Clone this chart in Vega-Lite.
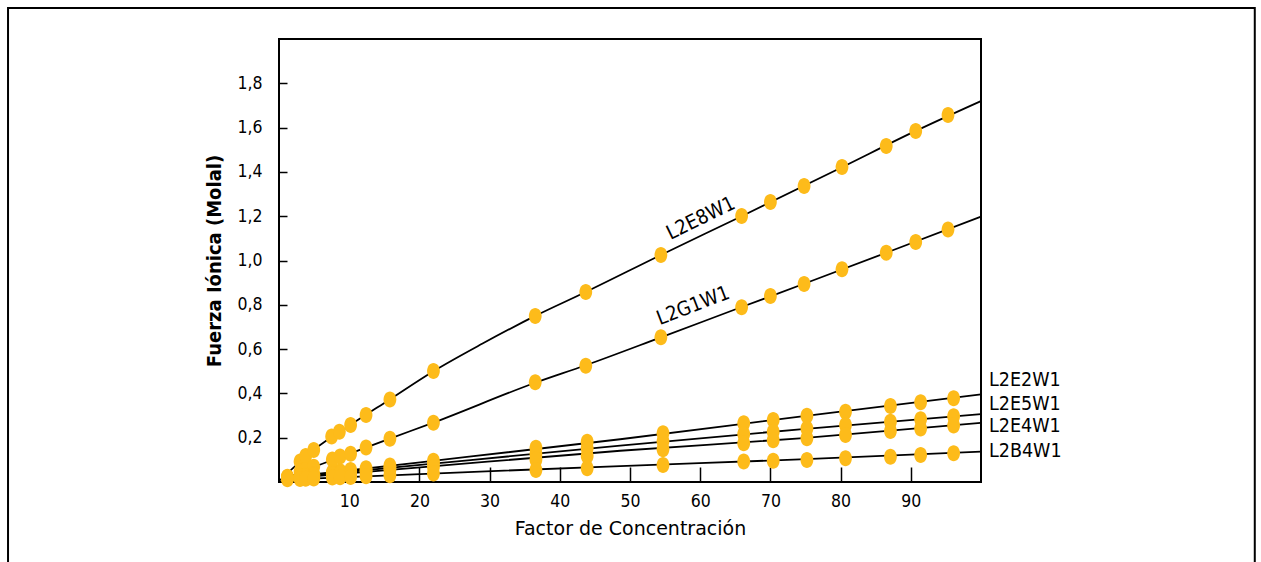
{
  "$schema": "https://vega.github.io/schema/vega-lite/v6.json",
  "width": 702,
  "height": 443,
  "autosize": {"type": "none"},
  "padding": {"left": 279, "top": 39, "right": 280, "bottom": 80},
  "background": "white",
  "config": {
    "font": "DejaVu Sans Condensed",
    "view": {"stroke": "black", "strokeWidth": 2},
    "axis": {
      "grid": false,
      "domain": false,
      "tickColor": "black",
      "tickWidth": 1.5,
      "labelColor": "black",
      "labelFont": "DejaVu Sans Condensed",
      "labelFontSize": 17.5,
      "titleColor": "black",
      "titleFont": "DejaVu Sans",
      "titleFontWeight": "normal"
    }
  },
  "datasets": {
    "muestras": [
      {"serie": "L2E8W1", "x": 1.2, "y": 0.024},
      {"serie": "L2E8W1", "x": 3.0, "y": 0.092},
      {"serie": "L2E8W1", "x": 3.8, "y": 0.117},
      {"serie": "L2E8W1", "x": 4.95, "y": 0.144},
      {"serie": "L2E8W1", "x": 7.5, "y": 0.205},
      {"serie": "L2E8W1", "x": 8.6, "y": 0.227},
      {"serie": "L2E8W1", "x": 10.2, "y": 0.257},
      {"serie": "L2E8W1", "x": 12.4, "y": 0.302},
      {"serie": "L2E8W1", "x": 15.8, "y": 0.373},
      {"serie": "L2E8W1", "x": 22.0, "y": 0.501},
      {"serie": "L2E8W1", "x": 36.5, "y": 0.75},
      {"serie": "L2E8W1", "x": 43.7, "y": 0.858},
      {"serie": "L2E8W1", "x": 54.4, "y": 1.025},
      {"serie": "L2E8W1", "x": 65.9, "y": 1.201},
      {"serie": "L2E8W1", "x": 70.0, "y": 1.264},
      {"serie": "L2E8W1", "x": 74.8, "y": 1.336},
      {"serie": "L2E8W1", "x": 80.2, "y": 1.422},
      {"serie": "L2E8W1", "x": 86.5, "y": 1.517},
      {"serie": "L2E8W1", "x": 90.7, "y": 1.585},
      {"serie": "L2E8W1", "x": 95.3, "y": 1.657},
      {"serie": "L2G1W1", "x": 1.2, "y": 0.021},
      {"serie": "L2G1W1", "x": 3.0, "y": 0.047},
      {"serie": "L2G1W1", "x": 3.8, "y": 0.054},
      {"serie": "L2G1W1", "x": 4.95, "y": 0.069},
      {"serie": "L2G1W1", "x": 7.6, "y": 0.102},
      {"serie": "L2G1W1", "x": 8.7, "y": 0.115},
      {"serie": "L2G1W1", "x": 10.2, "y": 0.127},
      {"serie": "L2G1W1", "x": 12.4, "y": 0.156},
      {"serie": "L2G1W1", "x": 15.8, "y": 0.195},
      {"serie": "L2G1W1", "x": 22.0, "y": 0.268},
      {"serie": "L2G1W1", "x": 36.5, "y": 0.45},
      {"serie": "L2G1W1", "x": 43.7, "y": 0.525},
      {"serie": "L2G1W1", "x": 54.4, "y": 0.653},
      {"serie": "L2G1W1", "x": 65.9, "y": 0.789},
      {"serie": "L2G1W1", "x": 70.0, "y": 0.84},
      {"serie": "L2G1W1", "x": 74.8, "y": 0.894},
      {"serie": "L2G1W1", "x": 80.2, "y": 0.96},
      {"serie": "L2G1W1", "x": 86.5, "y": 1.035},
      {"serie": "L2G1W1", "x": 90.7, "y": 1.083},
      {"serie": "L2G1W1", "x": 95.3, "y": 1.14},
      {"serie": "L2E2W1", "x": 1.2, "y": 0.021},
      {"serie": "L2E2W1", "x": 3.0, "y": 0.028},
      {"serie": "L2E2W1", "x": 3.8, "y": 0.031},
      {"serie": "L2E2W1", "x": 4.95, "y": 0.035},
      {"serie": "L2E2W1", "x": 7.6, "y": 0.044},
      {"serie": "L2E2W1", "x": 8.7, "y": 0.048},
      {"serie": "L2E2W1", "x": 10.2, "y": 0.054},
      {"serie": "L2E2W1", "x": 12.4, "y": 0.062},
      {"serie": "L2E2W1", "x": 15.8, "y": 0.074},
      {"serie": "L2E2W1", "x": 22.0, "y": 0.096},
      {"serie": "L2E2W1", "x": 36.6, "y": 0.155},
      {"serie": "L2E2W1", "x": 43.9, "y": 0.182},
      {"serie": "L2E2W1", "x": 54.7, "y": 0.22},
      {"serie": "L2E2W1", "x": 66.2, "y": 0.265},
      {"serie": "L2E2W1", "x": 70.4, "y": 0.28},
      {"serie": "L2E2W1", "x": 75.2, "y": 0.299},
      {"serie": "L2E2W1", "x": 80.7, "y": 0.317},
      {"serie": "L2E2W1", "x": 87.1, "y": 0.343},
      {"serie": "L2E2W1", "x": 91.4, "y": 0.36},
      {"serie": "L2E2W1", "x": 96.1, "y": 0.378},
      {"serie": "L2E5W1", "x": 1.2, "y": 0.019},
      {"serie": "L2E5W1", "x": 3.0, "y": 0.024},
      {"serie": "L2E5W1", "x": 3.8, "y": 0.027},
      {"serie": "L2E5W1", "x": 4.95, "y": 0.03},
      {"serie": "L2E5W1", "x": 7.6, "y": 0.039},
      {"serie": "L2E5W1", "x": 8.7, "y": 0.042},
      {"serie": "L2E5W1", "x": 10.2, "y": 0.047},
      {"serie": "L2E5W1", "x": 12.4, "y": 0.053},
      {"serie": "L2E5W1", "x": 15.8, "y": 0.064},
      {"serie": "L2E5W1", "x": 22.0, "y": 0.084},
      {"serie": "L2E5W1", "x": 36.6, "y": 0.126},
      {"serie": "L2E5W1", "x": 43.9, "y": 0.152},
      {"serie": "L2E5W1", "x": 54.7, "y": 0.184},
      {"serie": "L2E5W1", "x": 66.2, "y": 0.217},
      {"serie": "L2E5W1", "x": 70.4, "y": 0.227},
      {"serie": "L2E5W1", "x": 75.2, "y": 0.242},
      {"serie": "L2E5W1", "x": 80.7, "y": 0.257},
      {"serie": "L2E5W1", "x": 87.1, "y": 0.272},
      {"serie": "L2E5W1", "x": 91.4, "y": 0.283},
      {"serie": "L2E5W1", "x": 96.1, "y": 0.297},
      {"serie": "L2E4W1", "x": 1.2, "y": 0.017},
      {"serie": "L2E4W1", "x": 3.0, "y": 0.022},
      {"serie": "L2E4W1", "x": 3.8, "y": 0.024},
      {"serie": "L2E4W1", "x": 4.95, "y": 0.027},
      {"serie": "L2E4W1", "x": 7.6, "y": 0.034},
      {"serie": "L2E4W1", "x": 8.7, "y": 0.037},
      {"serie": "L2E4W1", "x": 10.2, "y": 0.04},
      {"serie": "L2E4W1", "x": 12.4, "y": 0.046},
      {"serie": "L2E4W1", "x": 15.8, "y": 0.055},
      {"serie": "L2E4W1", "x": 22.0, "y": 0.068},
      {"serie": "L2E4W1", "x": 36.6, "y": 0.101},
      {"serie": "L2E4W1", "x": 43.9, "y": 0.117},
      {"serie": "L2E4W1", "x": 54.7, "y": 0.148},
      {"serie": "L2E4W1", "x": 66.2, "y": 0.175},
      {"serie": "L2E4W1", "x": 70.4, "y": 0.188},
      {"serie": "L2E4W1", "x": 75.2, "y": 0.198},
      {"serie": "L2E4W1", "x": 80.7, "y": 0.212},
      {"serie": "L2E4W1", "x": 87.1, "y": 0.23},
      {"serie": "L2E4W1", "x": 91.4, "y": 0.242},
      {"serie": "L2E4W1", "x": 96.1, "y": 0.255},
      {"serie": "L2B4W1", "x": 1.2, "y": 0.012},
      {"serie": "L2B4W1", "x": 3.0, "y": 0.014},
      {"serie": "L2B4W1", "x": 3.8, "y": 0.015},
      {"serie": "L2B4W1", "x": 4.95, "y": 0.016},
      {"serie": "L2B4W1", "x": 7.6, "y": 0.02},
      {"serie": "L2B4W1", "x": 8.7, "y": 0.021},
      {"serie": "L2B4W1", "x": 10.2, "y": 0.023},
      {"serie": "L2B4W1", "x": 12.4, "y": 0.026},
      {"serie": "L2B4W1", "x": 15.8, "y": 0.03},
      {"serie": "L2B4W1", "x": 22.0, "y": 0.038},
      {"serie": "L2B4W1", "x": 36.6, "y": 0.054},
      {"serie": "L2B4W1", "x": 43.9, "y": 0.062},
      {"serie": "L2B4W1", "x": 54.7, "y": 0.077},
      {"serie": "L2B4W1", "x": 66.2, "y": 0.092},
      {"serie": "L2B4W1", "x": 70.4, "y": 0.096},
      {"serie": "L2B4W1", "x": 75.2, "y": 0.099},
      {"serie": "L2B4W1", "x": 80.7, "y": 0.107},
      {"serie": "L2B4W1", "x": 87.1, "y": 0.114},
      {"serie": "L2B4W1", "x": 91.4, "y": 0.122},
      {"serie": "L2B4W1", "x": 96.1, "y": 0.13}
    ],
    "curvas": [
      {"serie": "L2E8W1", "x": 0.2, "y": 0.009},
      {"serie": "L2E8W1", "x": 5, "y": 0.146},
      {"serie": "L2E8W1", "x": 10, "y": 0.254},
      {"serie": "L2E8W1", "x": 15.8, "y": 0.373},
      {"serie": "L2E8W1", "x": 22, "y": 0.5},
      {"serie": "L2E8W1", "x": 29, "y": 0.625},
      {"serie": "L2E8W1", "x": 36.5, "y": 0.75},
      {"serie": "L2E8W1", "x": 43.7, "y": 0.858},
      {"serie": "L2E8W1", "x": 54.4, "y": 1.025},
      {"serie": "L2E8W1", "x": 65.9, "y": 1.2},
      {"serie": "L2E8W1", "x": 80.2, "y": 1.421},
      {"serie": "L2E8W1", "x": 90.7, "y": 1.585},
      {"serie": "L2E8W1", "x": 100, "y": 1.72},
      {"serie": "L2G1W1", "x": 0.2, "y": 0.006},
      {"serie": "L2G1W1", "x": 5, "y": 0.068},
      {"serie": "L2G1W1", "x": 10, "y": 0.127},
      {"serie": "L2G1W1", "x": 15.8, "y": 0.196},
      {"serie": "L2G1W1", "x": 22, "y": 0.268},
      {"serie": "L2G1W1", "x": 36.5, "y": 0.448},
      {"serie": "L2G1W1", "x": 43.7, "y": 0.527},
      {"serie": "L2G1W1", "x": 54.4, "y": 0.653},
      {"serie": "L2G1W1", "x": 65.9, "y": 0.79},
      {"serie": "L2G1W1", "x": 74.8, "y": 0.895},
      {"serie": "L2G1W1", "x": 86.5, "y": 1.035},
      {"serie": "L2G1W1", "x": 100, "y": 1.198},
      {"serie": "L2E2W1", "x": 0.3, "y": 0.018},
      {"serie": "L2E2W1", "x": 20.1, "y": 0.089},
      {"serie": "L2E2W1", "x": 48.6, "y": 0.193},
      {"serie": "L2E2W1", "x": 74.2, "y": 0.295},
      {"serie": "L2E2W1", "x": 100, "y": 0.396},
      {"serie": "L2E5W1", "x": 0.3, "y": 0.016},
      {"serie": "L2E5W1", "x": 20.1, "y": 0.077},
      {"serie": "L2E5W1", "x": 48.6, "y": 0.164},
      {"serie": "L2E5W1", "x": 74.2, "y": 0.238},
      {"serie": "L2E5W1", "x": 100, "y": 0.306},
      {"serie": "L2E4W1", "x": 0.3, "y": 0.014},
      {"serie": "L2E4W1", "x": 20.1, "y": 0.066},
      {"serie": "L2E4W1", "x": 48.6, "y": 0.141},
      {"serie": "L2E4W1", "x": 74.2, "y": 0.197},
      {"serie": "L2E4W1", "x": 100, "y": 0.267},
      {"serie": "L2B4W1", "x": 0.3, "y": 0.01},
      {"serie": "L2B4W1", "x": 20.1, "y": 0.036},
      {"serie": "L2B4W1", "x": 48.6, "y": 0.072},
      {"serie": "L2B4W1", "x": 74.2, "y": 0.102},
      {"serie": "L2B4W1", "x": 100, "y": 0.137}
    ],
    "etiquetas_finales": [
      {"serie": "L2E2W1", "y": 0.46},
      {"serie": "L2E5W1", "y": 0.35},
      {"serie": "L2E4W1", "y": 0.251},
      {"serie": "L2B4W1", "y": 0.14}
    ]
  },
  "encoding": {
    "x": {
      "type": "quantitative",
      "scale": {"domain": [0, 100], "nice": false},
      "axis": {
        "title": "Factor de Concentración",
        "titleFontSize": 19,
        "titlePadding": 10,
        "values": [10, 20, 30, 40, 50, 60, 70, 80, 90],
        "tickSize": -15,
        "labelPadding": 25
      }
    },
    "y": {
      "type": "quantitative",
      "scale": {"domain": [0, 2], "nice": false},
      "axis": {
        "title": "Fuerza Iónica (Molal)",
        "titleFont": "DejaVu Sans Condensed",
        "titleFontWeight": "bold",
        "titleFontSize": 20,
        "titlePadding": 12,
        "values": [0.2, 0.4, 0.6, 0.8, 1.0, 1.2, 1.4, 1.6, 1.8],
        "labelExpr": "replace(format(datum.value, '.1f'), '.', ',')",
        "tickSize": -8,
        "labelPadding": 25
      }
    }
  },
  "layer": [
    {
      "description": "Marco exterior de la figura",
      "data": {"values": [{}]},
      "mark": {"type": "rect", "filled": false, "stroke": "black", "strokeWidth": 2, "clip": false},
      "encoding": {
        "x": {"datum": -38.6},
        "x2": {"datum": 139.0},
        "y": {"datum": 2.14},
        "y2": {"datum": -0.6}
      }
    },
    {
      "data": {"name": "curvas"},
      "mark": {"type": "line", "stroke": "black", "strokeWidth": 1.8, "interpolate": "monotone"},
      "encoding": {
        "x": {"field": "x"},
        "y": {"field": "y"},
        "detail": {"field": "serie"}
      }
    },
    {
      "data": {"name": "muestras"},
      "mark": {
        "type": "point",
        "filled": true,
        "shape": "M 0 -1 A 0.8 1 0 1 1 0 1 A 0.8 1 0 1 1 0 -1 Z",
        "size": 256,
        "color": "#FDBB1A",
        "opacity": 1,
        "strokeWidth": 0
      },
      "encoding": {
        "x": {"field": "x"},
        "y": {"field": "y"},
        "detail": {"field": "serie"}
      }
    },
    {
      "data": {"values": [{"serie": "L2E8W1", "x": 60.1, "y": 1.19}]},
      "mark": {"type": "text", "angle": -26, "fontSize": 20, "color": "black", "align": "center", "baseline": "middle"},
      "encoding": {
        "x": {"field": "x"},
        "y": {"field": "y"},
        "text": {"field": "serie"}
      }
    },
    {
      "data": {"values": [{"serie": "L2G1W1", "x": 59.0, "y": 0.795}]},
      "mark": {"type": "text", "angle": -21, "fontSize": 20, "color": "black", "align": "center", "baseline": "middle"},
      "encoding": {
        "x": {"field": "x"},
        "y": {"field": "y"},
        "text": {"field": "serie"}
      }
    },
    {
      "data": {"name": "etiquetas_finales"},
      "mark": {"type": "text", "fontSize": 19.5, "color": "black", "align": "left", "baseline": "middle", "dx": 8, "clip": false},
      "encoding": {
        "x": {"datum": 100},
        "y": {"field": "y"},
        "text": {"field": "serie"}
      }
    }
  ]
}
